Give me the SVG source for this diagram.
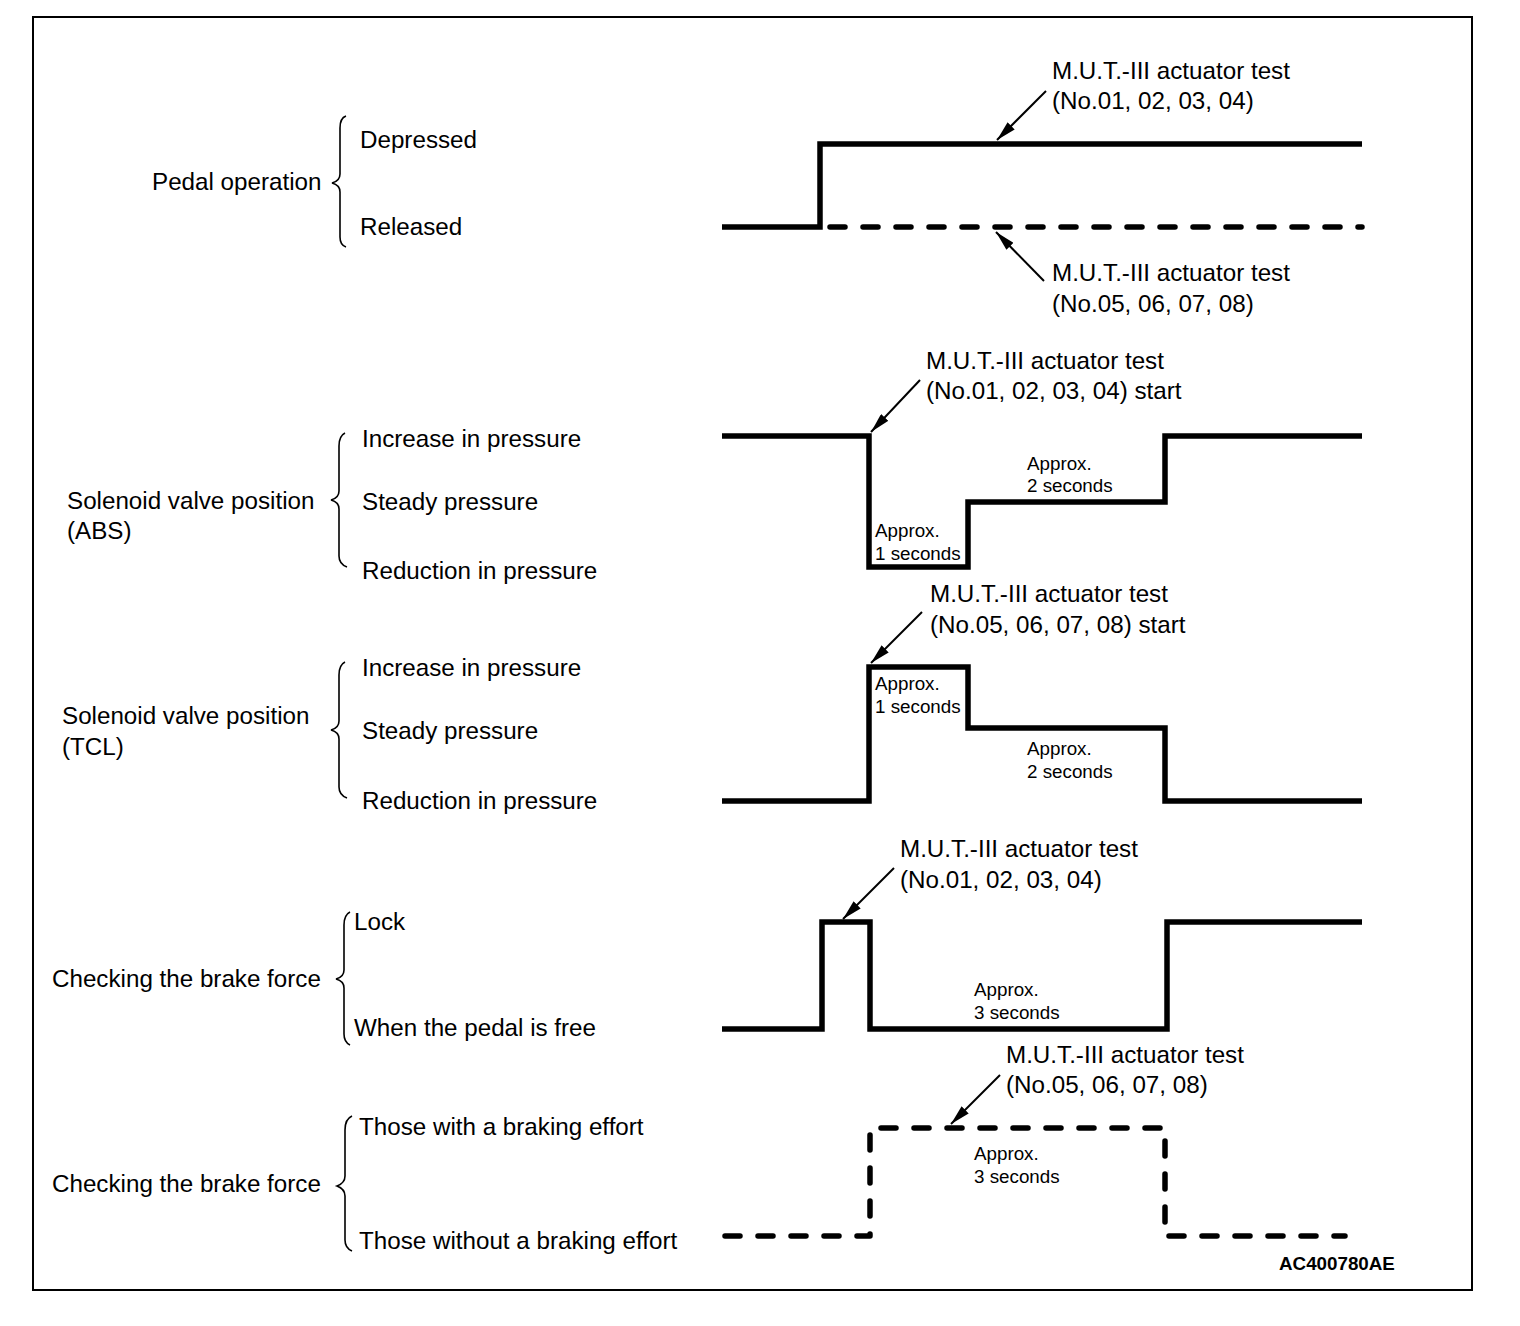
<svg xmlns="http://www.w3.org/2000/svg" width="1520" height="1326" viewBox="0 0 1520 1326">
<style>
text{font-family:"Liberation Sans",Arial,sans-serif;fill:#000}
.t{font-size:24.2px}
.s{font-size:18.8px}
.id{font-size:18.8px;font-weight:bold}
.w{fill:none;stroke:#000;stroke-width:5.5;stroke-linejoin:miter}
.d{fill:none;stroke:#000;stroke-width:5.5;stroke-dasharray:15 18;stroke-linecap:round;stroke-linejoin:round}
.b{fill:none;stroke:#000;stroke-width:1.6}
.a{fill:none;stroke:#000;stroke-width:2;marker-end:url(#ah)}
</style>
<defs>
<marker id="ah" viewBox="0 0 20 10" refX="20" refY="5" markerWidth="20" markerHeight="10" markerUnits="userSpaceOnUse" orient="auto">
<path d="M0,0 L20,5 L0,10 z" fill="#000"/>
</marker>
</defs>
<rect x="0" y="0" width="1520" height="1326" fill="#fff"/>
<rect id="frame" x="33" y="17" width="1439" height="1273" fill="none" stroke="#000" stroke-width="2"/>

<g id="pedal">
<text class="t" x="152" y="190">Pedal operation</text>
<path class="b" d="M346,116 Q340,118 340,128 L340,174 Q340,181 332,183 Q340,185 340,192 L340,237 Q340,245 346,247"/>
<text class="t" x="360" y="148">Depressed</text>
<text class="t" x="360" y="235">Released</text>
<path class="w" d="M722,227 L820,227 L820,144 L1362,144"/>
<path class="d" d="M830,227 L1362,227"/>
<text class="t" x="1052" y="79">M.U.T.-III actuator test</text>
<text class="t" x="1052" y="109">(No.01, 02, 03, 04)</text>
<text class="t" x="1052" y="281">M.U.T.-III actuator test</text>
<text class="t" x="1052" y="312">(No.05, 06, 07, 08)</text>
</g>

<g id="abs">
<text class="t" x="67" y="509">Solenoid valve position</text>
<text class="t" x="67" y="539">(ABS)</text>
<path class="b" d="M345,433 Q339,436 339,446 L339,491 Q339,498 331,500 Q339,502 339,509 L339,556 Q339,564 347,567"/>
<text class="t" x="362" y="447">Increase in pressure</text>
<text class="t" x="362" y="510">Steady pressure</text>
<text class="t" x="362" y="579">Reduction in pressure</text>
<path class="w" d="M722,436 L869,436 L869,567 L968,567 L968,502 L1165,502 L1165,436 L1362,436"/>
<text class="t" x="926" y="369">M.U.T.-III actuator test</text>
<text class="t" x="926" y="399">(No.01, 02, 03, 04) start</text>
<text class="s" x="875" y="537">Approx.</text>
<text class="s" x="875" y="560">1 seconds</text>
<text class="s" x="1027" y="470">Approx.</text>
<text class="s" x="1027" y="492">2 seconds</text>
</g>

<g id="tcl">
<text class="t" x="62" y="724">Solenoid valve position</text>
<text class="t" x="62" y="755">(TCL)</text>
<path class="b" d="M345,662 Q339,665 339,675 L339,721 Q339,728 331,730 Q339,732 339,739 L339,787 Q339,795 347,798"/>
<text class="t" x="362" y="676">Increase in pressure</text>
<text class="t" x="362" y="739">Steady pressure</text>
<text class="t" x="362" y="809">Reduction in pressure</text>
<path class="w" d="M722,801 L869,801 L869,667 L968,667 L968,728 L1165,728 L1165,801 L1362,801"/>
<text class="t" x="930" y="602">M.U.T.-III actuator test</text>
<text class="t" x="930" y="633">(No.05, 06, 07, 08) start</text>
<text class="s" x="875" y="690">Approx.</text>
<text class="s" x="875" y="713">1 seconds</text>
<text class="s" x="1027" y="755">Approx.</text>
<text class="s" x="1027" y="778">2 seconds</text>
</g>

<g id="brake1">
<text class="t" x="52" y="987">Checking the brake force</text>
<path class="b" d="M350,912 Q344,915 344,925 L344,970 Q344,977 336,979 Q344,981 344,988 L344,1034 Q344,1042 350,1045"/>
<text class="t" x="354" y="930">Lock</text>
<text class="t" x="354" y="1036">When the pedal is free</text>
<path class="w" d="M722,1029 L822,1029 L822,922 L870,922 L870,1029 L1167,1029 L1167,922 L1362,922"/>
<text class="t" x="900" y="857">M.U.T.-III actuator test</text>
<text class="t" x="900" y="888">(No.01, 02, 03, 04)</text>
<text class="s" x="974" y="996">Approx.</text>
<text class="s" x="974" y="1019">3 seconds</text>
</g>

<g id="brake2">
<text class="t" x="52" y="1192">Checking the brake force</text>
<path class="b" d="M352,1116 Q345,1119 345,1130 L345,1176 Q345,1183 337,1186 Q345,1189 345,1196 L345,1240 Q345,1248 352,1251"/>
<text class="t" x="359" y="1135">Those with a braking effort</text>
<text class="t" x="359" y="1249">Those without a braking effort</text>
<path class="d" d="M725,1236 L870,1236 L870,1128 L1165,1128 L1165,1236 L1345,1236"/>
<text class="t" x="1006" y="1063">M.U.T.-III actuator test</text>
<text class="t" x="1006" y="1093">(No.05, 06, 07, 08)</text>
<text class="s" x="974" y="1160">Approx.</text>
<text class="s" x="974" y="1183">3 seconds</text>
</g>

<g id="connectors">
<line class="a" x1="1046" y1="91" x2="997" y2="140"/>
<line class="a" x1="1044" y1="281" x2="996" y2="232"/>
<line class="a" x1="920" y1="380" x2="871" y2="432"/>
<line class="a" x1="922" y1="612" x2="871" y2="663"/>
<line class="a" x1="894" y1="868" x2="843" y2="919"/>
<line class="a" x1="1000" y1="1075" x2="951" y2="1124"/>
</g>

<text class="id" x="1279" y="1270">AC400780AE</text>
</svg>
